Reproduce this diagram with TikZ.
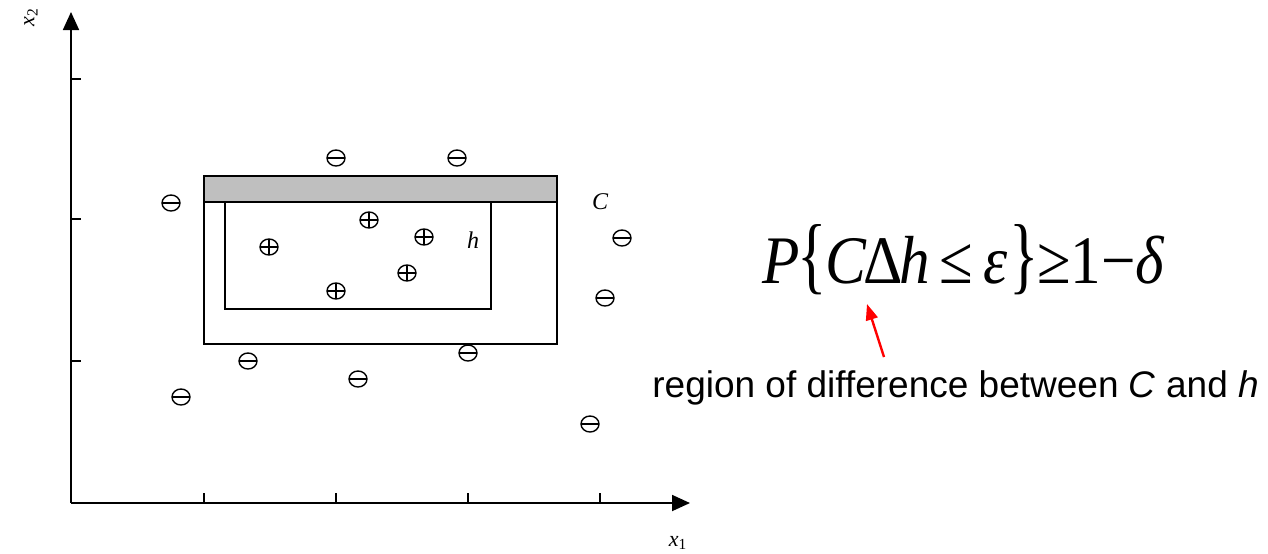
\documentclass[tikz,border=0pt]{standalone}
\usepackage{fontspec}
\setmainfont{Liberation Serif}
\newfontfamily\arialfont{Liberation Sans}
\usetikzlibrary{arrows.meta,shapes.geometric}
\tikzset{
  ptdot/.style={ellipse,draw,line width=0.7pt,minimum width=9pt,minimum height=8pt,inner sep=0pt},
  minusdot/.style={ptdot,path picture={\draw[line width=0.7pt] (path picture bounding box.west) -- (path picture bounding box.east);}},
  plusdot/.style={ptdot,path picture={\draw[line width=0.7pt] (path picture bounding box.west) -- (path picture bounding box.east) (path picture bounding box.north) -- (path picture bounding box.south);}},
  axisline/.style={line width=0.9pt,-{Triangle[length=9pt,width=8pt]}},
  tickline/.style={line width=0.8pt},
  boxline/.style={line width=0.7pt},
  lab/.style={font=\fontsize{11}{13}\selectfont\itshape,inner sep=0pt},
}
\begin{document}
\begin{tikzpicture}[x=0.5pt,y=-0.5pt]
\useasboundingbox (0,0) rectangle (1268,553);
% axes
\coordinate (O) at (71,503);
\coordinate (ytop) at (71,12);
\coordinate (xend) at (690,503);
\draw[axisline] (O) -- (ytop);
\draw[axisline] (O) -- (xend);
\foreach \y in {79,219,361} \draw[tickline] (71,\y) -- (81,\y);
\foreach \x in {204,336,468,600} \draw[tickline] (\x,503) -- (\x,493);
\node[lab,rotate=90] (x2) at (31,17) {x\textsubscript{\upshape 2}};
\node[lab] (x1) at (678,543) {x\textsubscript{\upshape 1}};
% rectangles
\fill[gray!50] (204,176) rectangle (557,202);
\draw[boxline] (204,176) rectangle (557,344);
\draw[boxline] (204,202) -- (557,202);
\draw[boxline] (225,202) -- (225,309) -- (491,309) -- (491,202);
\node[lab,font=\fontsize{12}{14}\selectfont\itshape] (C) at (600,202) {C};
\node[lab,font=\fontsize{12}{14}\selectfont\itshape] (h) at (473,240) {h};
% negative points
\node[minusdot] (m1) at (336,158) {};
\node[minusdot] (m2) at (457,158) {};
\node[minusdot] (m3) at (171,203) {};
\node[minusdot] (m4) at (622,238) {};
\node[minusdot] (m5) at (605,298) {};
\node[minusdot] (m6) at (248,361) {};
\node[minusdot] (m7) at (468,353) {};
\node[minusdot] (m8) at (358,379) {};
\node[minusdot] (m9) at (181,397) {};
\node[minusdot] (m10) at (590,424) {};
% positive points
\node[plusdot] (p1) at (369,220) {};
\node[plusdot] (p2) at (269,247) {};
\node[plusdot] (p3) at (424,237) {};
\node[plusdot] (p4) at (407,273) {};
\node[plusdot] (p5) at (336,291) {};
% formula
\node[anchor=base west,inner sep=0pt,font=\fontsize{34}{40}\selectfont] (f) at (762,283)
  {\scalebox{0.9}[1]{\textit{P}\kern-1pt\scalebox{1}[1.25]{\{}\kern-1pt\textit{C}\kern-2pt Δ\kern-2pt\textit{h}\,≤\,\textit{ε}\kern1pt\scalebox{1}[1.25]{\}}\kern-1pt≥1−\textit{δ}}};
% label and arrow
\node[anchor=base west,inner sep=0pt,font=\arialfont\fontsize{18.5}{21}\selectfont] (lbl) at (652,397)
  {region of difference between \textit{C} and \textit{h}};
\coordinate (tail) at (884,357);
\coordinate (tip) at (867,304);
\draw[red,line width=1.2pt,-{Triangle[length=8pt,width=6pt]}] (tail) -- (tip);
\end{tikzpicture}
\end{document}
